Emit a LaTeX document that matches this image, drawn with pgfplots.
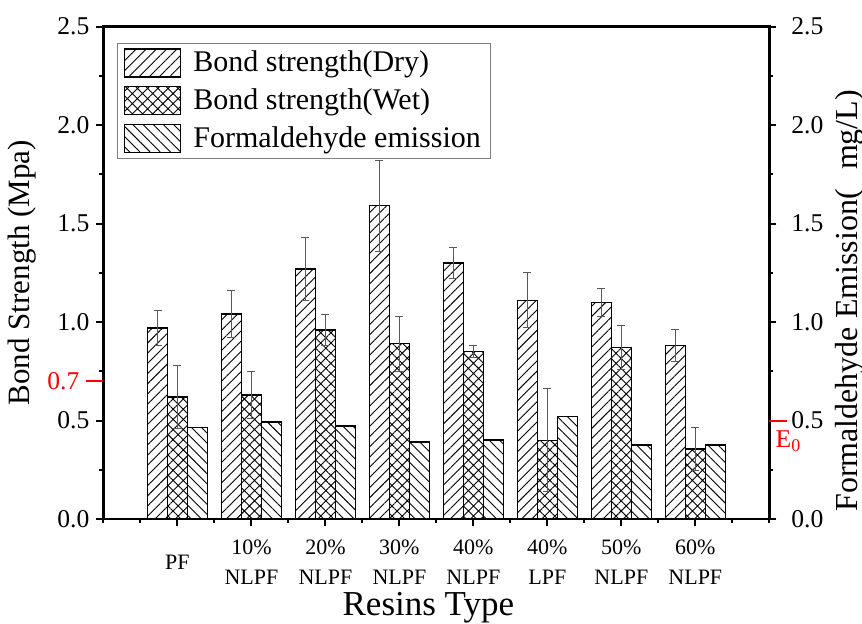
\documentclass[border=0pt]{standalone}
\usepackage{pgfplots}
\pgfplotsset{compat=1.18}
\usepackage{pgfplotstable}
\usepackage{fontspec}
\setmainfont{Liberation Serif}
\usetikzlibrary{patterns.meta}

% x: resin index, dry/wet bond strength (MPa) with errors, formaldehyde (mg/L)
\pgfplotstableread{
x dry dryerr wet weterr hcho
0 0.97 0.09 0.62 0.16 0.466
1 1.04 0.12 0.63 0.12 0.492
2 1.27 0.16 0.96 0.08 0.473
3 1.59 0.23 0.89 0.14 0.390
4 1.30 0.08 0.85 0.03 0.402
5 1.11 0.14 0.40 0.26 0.520
6 1.10 0.07 0.87 0.11 0.376
7 0.88 0.08 0.355 0.11 0.376
}\datatable

\tikzset{
  drybar/.style={draw=black, line width=0.7pt, pattern={Lines[angle=45,distance=3.6pt,line width=0.45pt]}},
  wetbar/.style={draw=black, line width=0.7pt, pattern={Hatch[angle=45,distance=3.6pt,line width=0.45pt]}},
  hchobar/.style={draw=black, line width=0.7pt, pattern={Lines[angle=-45,distance=3.6pt,line width=0.45pt]}},
}

\pgfplotsset{
  errstyle/.style={error bars/y dir=both, error bars/y explicit,
    error bars/error bar style={line width=0.5pt, gray!70!black},
    error bars/error mark options={rotate=90, mark size=2pt, line width=0.5pt, gray!70!black}},
  common/.style={
    scale only axis, width=332.9pt, height=246.25pt,
    at={(0,0)}, anchor=south west,
    xmin=-1, xmax=8, ymin=0, ymax=2.5,
    ybar, bar width=0.27,
    tick align=outside,
    major tick length=3.5pt, minor tick length=2pt,
    every tick/.style={line width=1pt, black},
    axis line style={line width=1.4pt},
    ytick={0,0.5,...,2.5}, minor ytick={0.25,0.75,...,2.25},
    /pgf/number format/assume math mode=true,
    y tick label style={/pgf/number format/fixed, /pgf/number format/fixed zerofill,
      /pgf/number format/precision=1, font=\fontsize{12.8}{14}\selectfont},
    label style={font=\fontsize{15.5}{18}\selectfont},
  },
}

\begin{document}
\begin{tikzpicture}
\useasboundingbox (-51.75pt,-52pt) rectangle (379.25pt,259.5pt);

\begin{axis}[
  common,
  xtick={0,...,7},
  xticklabels={PF, 10\%\\NLPF, 20\%\\NLPF, 30\%\\NLPF, 40\%\\NLPF, 40\%\\LPF, 50\%\\NLPF, 60\%\\NLPF},
  minor xtick={-1,-0.5,...,8},
  xtick pos=bottom, ytick pos=left,
  x tick label style={font=\fontsize{11}{15}\selectfont, align=center, anchor=center, yshift=-18pt},
  xlabel={Resins Type},
  xlabel style={at={(rel axis cs:0.5,0)}, anchor=center, yshift=-44.5pt, xshift=-4pt, font=\fontsize{17.5}{20}\selectfont},
  ylabel={Bond Strength (Mpa)},
  ylabel style={at={(axis description cs:-0.1224,0.5)}, anchor=center},
  extra y ticks={0.7}, extra y tick labels={0.7},
  extra y tick style={major tick length=8.5pt, tick style={red, line width=1pt}, y tick label style={red}},
  legend image code/.code={\draw[#1] (0pt,-7pt) rectangle (28pt,7pt); \path (32pt,0pt);},
  legend cell align=left,
  legend style={at={(0,1)}, anchor=north west, xshift=7pt, yshift=-8pt,
    draw=gray, line width=0.5pt, inner xsep=3pt, inner ysep=2pt, row sep=3pt,
    font=\fontsize{15}{17}\selectfont},
]
\addplot[drybar, bar shift=-0.27, errstyle] table[x=x, y=dry, y error=dryerr] {\datatable};
\addlegendentry{Bond strength(Dry)}
\addplot[wetbar, bar shift=0, errstyle] table[x=x, y=wet, y error=weterr] {\datatable};
\addlegendentry{Bond strength(Wet)}
\addlegendimage{hchobar}
\addlegendentry{Formaldehyde emission}
\end{axis}

\begin{axis}[
  common,
  clip=false,
  hide x axis,
  axis y line*=right,
  ytick pos=right,
  y tick label style={xshift=4pt},
  ylabel={Formaldehyde Emission(\hspace{0.6em}mg/L)},
  ylabel style={at={(axis description cs:1.121,0.443)}, anchor=center, font=\fontsize{16}{18}\selectfont},
  extra y ticks={0.5}, extra y tick labels={},
  extra y tick style={major tick length=9pt, tick style={red, line width=1pt}},
]
\addplot[hchobar, bar shift=0.27] table[x=x, y=hcho] {\datatable};
\node[red, anchor=north west, inner sep=0pt, font=\fontsize{12.8}{14}\selectfont]
  at (rel axis cs:1,0.2) [xshift=3pt, yshift=-5pt] {E\textsubscript{0}};
\end{axis}
\end{tikzpicture}
\end{document}
